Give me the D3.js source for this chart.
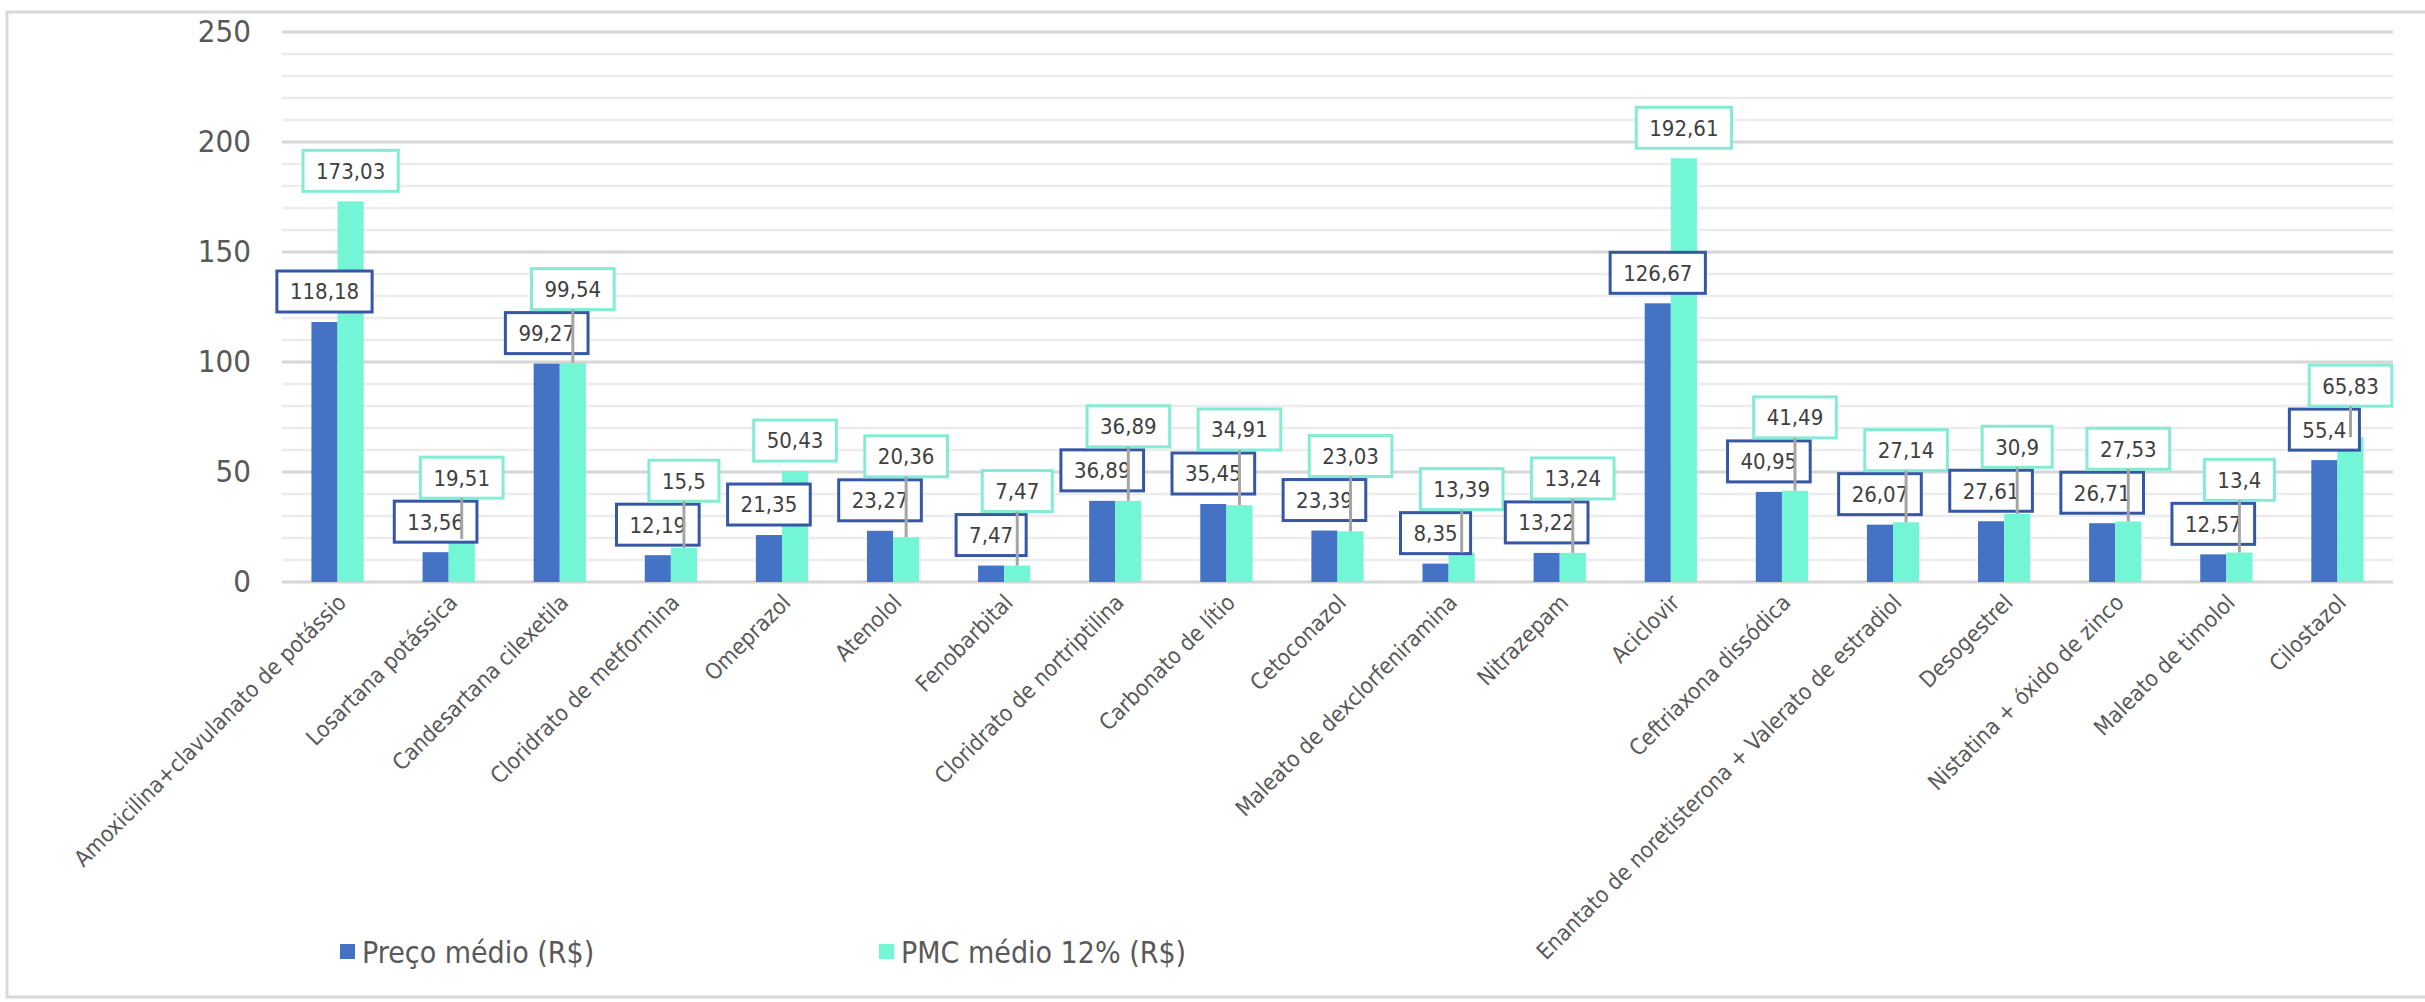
<!DOCTYPE html>
<html>
<head>
<meta charset="utf-8">
<script src="https://cdn.jsdelivr.net/npm/d3@7"></script>
<style>
  body { margin: 0; background: #ffffff; }
  text { font-family: 'DejaVu Sans Condensed', 'DejaVu Sans', sans-serif; font-stretch: condensed; }
</style>
</head>
<body>
<div id="chart-area"></div>
<script>
const categories = [
  'Amoxicilina+clavulanato de potássio',
  'Losartana potássica',
  'Candesartana cilexetila',
  'Cloridrato de metformina',
  'Omeprazol',
  'Atenolol',
  'Fenobarbital',
  'Cloridrato de nortriptilina',
  'Carbonato de lítio',
  'Cetoconazol',
  'Maleato de dexclorfeniramina',
  'Nitrazepam',
  'Aciclovir',
  'Ceftriaxona dissódica',
  'Enantato de noretisterona + Valerato de estradiol',
  'Desogestrel',
  'Nistatina + óxido de zinco',
  'Maleato de timolol',
  'Cilostazol',
];
const precoMedio = [118.18, 13.56, 99.27, 12.19, 21.35, 23.27, 7.47, 36.89, 35.45, 23.39, 8.35, 13.22, 126.67, 40.95, 26.07, 27.61, 26.71, 12.57, 55.4];
const pmcMedio = [173.03, 19.51, 99.54, 15.5, 50.43, 20.36, 7.47, 36.89, 34.91, 23.03, 13.39, 13.24, 192.61, 41.49, 27.14, 30.9, 27.53, 13.4, 65.83];
const seriesNames = ['Preço médio (R$)', 'PMC médio 12% (R$)'];
const yTicks = [0, 50, 100, 150, 200, 250];

let width = 2425;
let height = 1002;
let colors = ['#4472C4', '#72F6D6'];
let borders = ['#3557A6', '#84EBD5'];

let svg = d3
  .select('#chart-area')
  .append('svg')
  .attr('width', width)
  .attr('height', height);

//outer frame of the chart area
svg
  .append('rect')
  .attr('x', 7)
  .attr('y', 12)
  .attr('width', width + 20)
  .attr('height', 985)
  .style('fill', 'none')
  .style('stroke', '#D9D9D9')
  .style('stroke-width', 3);

let x0 = d3.scaleBand().domain(categories).range([282, 2393]).paddingInner(0.53).paddingOuter(0.265);
let x1 = d3.scaleBand().domain([0, 1]).range([0, x0.bandwidth()]);
let y = d3.scaleLinear().domain([0, 250]).range([582, 32]);

//minor and major gridlines
svg
  .append('g')
  .selectAll('line')
  .data(d3.range(0, 251, 10))
  .enter()
  .append('line')
  .attr('x1', 282)
  .attr('x2', 2393)
  .attr('y1', (d) => y(d))
  .attr('y2', (d) => y(d))
  .style('stroke', (d) => (d % 50 === 0 ? '#D6D6D6' : '#ECECEC'))
  .style('stroke-width', (d) => (d % 50 === 0 ? 3 : 2.5));

let yAxis = svg
  .append('g')
  .attr('transform', 'translate(282,0)')
  .call(d3.axisLeft(y).tickValues(yTicks).tickSize(0).tickPadding(31));
yAxis.select('.domain').remove();
yAxis
  .selectAll('text')
  .style('font-size', '31px')
  .style('fill', '#595959');

//bars
let rows = categories.map((c, i) => ({ name: c, values: [precoMedio[i], pmcMedio[i]] }));

let groups = svg
  .append('g')
  .selectAll('g')
  .data(rows)
  .enter()
  .append('g')
  .attr('transform', (d) => `translate(${x0(d.name)},0)`);

groups
  .selectAll('rect')
  .data((d) => d.values)
  .enter()
  .append('rect')
  .attr('x', (d, i) => x1(i))
  .attr('width', x1.bandwidth())
  .attr('y', (d) => y(d))
  .attr('height', (d) => y(0) - y(d))
  .style('fill', (d, i) => colors[i]);

//x axis labels, rotated
let xAxis = svg
  .append('g')
  .attr('transform', 'translate(0,582)')
  .call(d3.axisBottom(x0).tickSize(0));
xAxis.select('.domain').remove();
xAxis
  .selectAll('text')
  .attr('text-anchor', 'end')
  .attr('transform', 'translate(10,22) rotate(-45)')
  .attr('dy', 0)
  .attr('y', 0)
  .style('font-size', '22.5px')
  .style('fill', '#595959');

//data labels in boxes, teal one is pushed up with a leader line when it hits the blue one
let boxH = 41;
let labels = svg.append('g');
let leaders = [];
rows.forEach((row) => {
  let boxes = [];
  row.values.forEach((v, i) => {
    let cx = x0(row.name) + x1(i) + x1.bandwidth() / 2;
    let bottom = y(v) - 10;
    if (i === 1 && bottom > boxes[0].top - 3) {
      bottom = boxes[0].top - 3;
      leaders.push({ x: cx, y1: bottom, y2: y(v) });
    }
    let g = labels.append('g');
    let t = g
      .append('text')
      .attr('x', cx)
      .attr('y', bottom - boxH / 2)
      .attr('dy', '0.36em')
      .attr('text-anchor', 'middle')
      .style('font-size', '22px')
      .style('fill', '#404040')
      .text(String(v).replace('.', ','));
    let w = t.node().getComputedTextLength() + 26;
    g.insert('rect', 'text')
      .attr('x', cx - w / 2)
      .attr('y', bottom - boxH)
      .attr('width', w)
      .attr('height', boxH)
      .style('fill', '#ffffff')
      .style('stroke', borders[i])
      .style('stroke-width', 3);
    boxes.push({ top: bottom - boxH });
  });
});

labels
  .selectAll('line')
  .data(leaders)
  .enter()
  .append('line')
  .attr('x1', (d) => d.x)
  .attr('x2', (d) => d.x)
  .attr('y1', (d) => d.y1)
  .attr('y2', (d) => d.y2)
  .style('stroke', '#A5A5A5')
  .style('stroke-width', 3);

//legend
let legendX = [340, 879];
let legendItem = svg
  .append('g')
  .selectAll('g')
  .data(seriesNames)
  .enter()
  .append('g')
  .attr('transform', (d, i) => `translate(${legendX[i]},944)`);
legendItem
  .append('rect')
  .attr('width', 15)
  .attr('height', 15)
  .style('fill', (d, i) => colors[i]);
legendItem
  .append('text')
  .attr('x', 22)
  .attr('y', 8)
  .attr('dy', '0.36em')
  .style('font-size', '30px')
  .style('fill', '#595959')
  .text((d) => d);
</script>
</body>
</html>
